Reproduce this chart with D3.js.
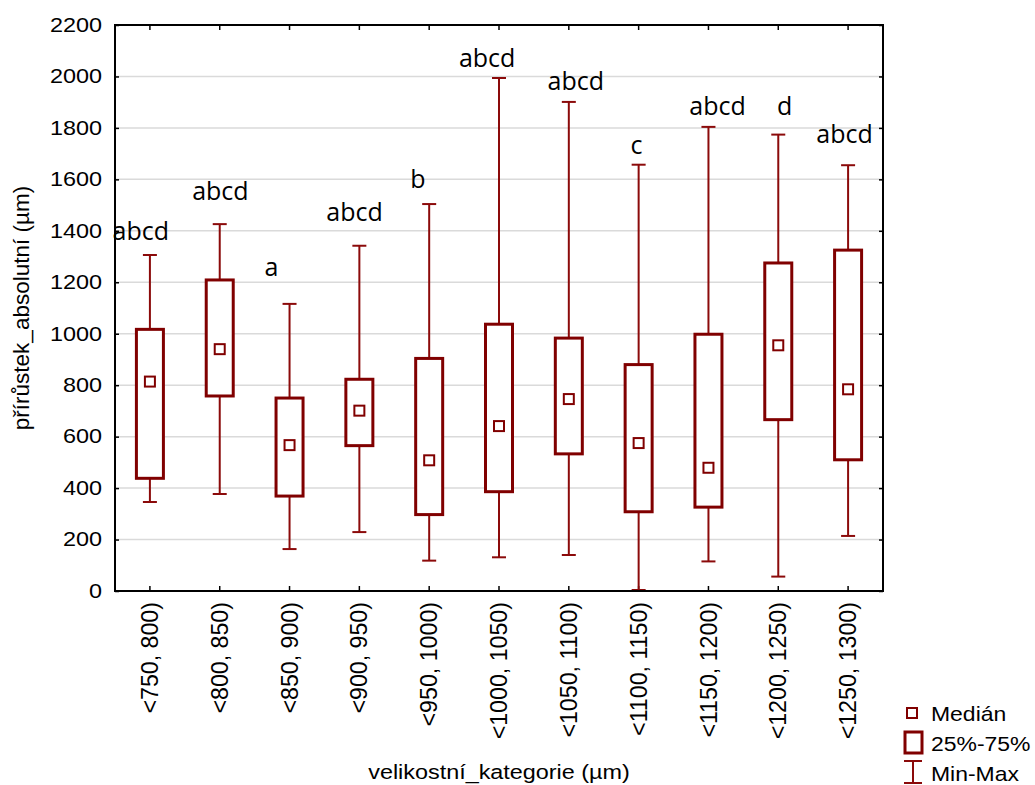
<!DOCTYPE html>
<html><head><meta charset="utf-8">
<script src="https://cdn.jsdelivr.net/npm/d3@7"></script>
<style>
html,body{margin:0;padding:0;background:#fff;}
svg text{font-family:"Liberation Sans",Arial,sans-serif;fill:#000;}
</style></head>
<body>
<svg id="chart" width="1035" height="785"></svg>
<script>
const categories = ["<750, 800)","<800, 850)","<850, 900)","<900, 950)","<950, 1000)","<1000, 1050)","<1050, 1100)","<1100, 1150)","<1150, 1200)","<1200, 1250)","<1250, 1300)"];
const maxV    = [1306,1426,1116,1342,1504,1994,1901,1657,1804,1774,1655];
const q3V     = [1017,1209, 750, 823, 904,1037, 983, 880, 998,1275,1325];
const medianV = [ 814, 940, 567, 701, 508, 641, 746, 575, 479, 955, 784];
const q1V     = [ 438, 758, 369, 565, 297, 386, 533, 308, 326, 666, 510];
const minV    = [ 346, 377, 163, 229, 118, 131, 140,   4, 115,  56, 214];
const letters = ["abcd","abcd","a","abcd","b","abcd","abcd","c","abcd","d","abcd"];
const letterY = [1364,1520,1224,1438,1566,2037,1947,1699,1850,1850,1741];
const letterShift = [-0.13,0.01,-0.26,-0.07,-0.16,-0.17,0.10,-0.03,0.13,0.09,-0.05]; // in category widths
const yTicks  = [0,200,400,600,800,1000,1200,1400,1600,1800,2000,2200];
const legendLabels = ["Medián","25%-75%","Min-Max"];

const svg = d3.select("#chart");
const L = 115, R = 883, T = 25, B = 591;
const red = "#800000", redW = "#8b0a0a";
const x = d3.scaleBand().domain(categories).range([L, R]);
const y = d3.scaleLinear().domain([0, 2200]).range([B, T]);
const SX = 1.2;

// gridlines
svg.append("g").selectAll("line").data(yTicks.filter(v => v > 0 && v < 2200)).join("line")
  .attr("x1", L).attr("x2", R).attr("y1", d => y(d)).attr("y2", d => y(d))
  .attr("stroke", "#dadada").attr("stroke-width", 1.5);

// axes ticks (inward)
const axL = svg.append("g").attr("transform", `translate(${L},0)`).call(d3.axisLeft(y).tickValues(yTicks).tickSize(-4).tickFormat(""));
const axR = svg.append("g").attr("transform", `translate(${R},0)`).call(d3.axisRight(y).tickValues(yTicks).tickSize(-4).tickFormat(""));
const axB = svg.append("g").attr("transform", `translate(0,${B})`).call(d3.axisBottom(x).tickSize(-5).tickFormat(""));
const axT = svg.append("g").attr("transform", `translate(0,${T})`).call(d3.axisTop(x).tickSize(-5).tickFormat(""));
[axL, axR, axB, axT].forEach(a => { a.select(".domain").remove(); a.selectAll("line").attr("stroke", "#000").attr("stroke-width", 1.5); });

// y tick labels
svg.append("g").selectAll("text").data(yTicks).join("text")
  .attr("transform", d => `translate(${L - 13},${y(d)}) scale(${SX},1)`)
  .attr("text-anchor", "end").attr("dy", "0.35em")
  .style("font-size", "19.5px").text(d => d);

// x tick labels (rotated)
svg.append("g").selectAll("text").data(categories).join("text")
  .attr("transform", d => `translate(${x(d) + x.bandwidth() / 2},${B + 11}) rotate(-90)`)
  .attr("text-anchor", "end").attr("dy", "0.35em")
  .style("font-size", "23.2px").text(d => d);

// boxes
const idx = d3.range(categories.length);
const bw = 27, cw = 14;
const cx = i => x(categories[i]) + x.bandwidth() / 2;
const g = svg.append("g");
g.selectAll(".wu").data(idx).join("line").attr("class", "wu")
  .attr("x1", cx).attr("x2", cx).attr("y1", i => y(maxV[i])).attr("y2", i => y(q3V[i]))
  .attr("stroke", redW).attr("stroke-width", 2);
g.selectAll(".wl").data(idx).join("line").attr("class", "wl")
  .attr("x1", cx).attr("x2", cx).attr("y1", i => y(q1V[i])).attr("y2", i => y(minV[i]))
  .attr("stroke", redW).attr("stroke-width", 2);
g.selectAll(".cu").data(idx).join("line").attr("class", "cu")
  .attr("x1", i => cx(i) - cw / 2).attr("x2", i => cx(i) + cw / 2)
  .attr("y1", i => y(maxV[i])).attr("y2", i => y(maxV[i]))
  .attr("stroke", redW).attr("stroke-width", 2);
g.selectAll(".cl").data(idx).join("line").attr("class", "cl")
  .attr("x1", i => cx(i) - cw / 2).attr("x2", i => cx(i) + cw / 2)
  .attr("y1", i => y(minV[i])).attr("y2", i => y(minV[i]))
  .attr("stroke", redW).attr("stroke-width", 2);
g.selectAll(".box").data(idx).join("rect").attr("class", "box")
  .attr("x", i => cx(i) - bw / 2).attr("width", bw)
  .attr("y", i => y(q3V[i])).attr("height", i => y(q1V[i]) - y(q3V[i]))
  .attr("fill", "#fff").attr("stroke", red).attr("stroke-width", 3);
g.selectAll(".med").data(idx).join("rect").attr("class", "med")
  .attr("x", i => cx(i) - 5).attr("width", 10)
  .attr("y", i => y(medianV[i]) - 5).attr("height", 10)
  .attr("fill", "#fff").attr("stroke", red).attr("stroke-width", 2);

// letters
svg.append("g").selectAll("text").data(idx).join("text")
  .attr("x", i => cx(i) + letterShift[i] * x.bandwidth()).attr("y", i => y(letterY[i]))
  .attr("text-anchor", "middle")
  .style("font-family", "'Open Sans', sans-serif").style("font-size", "25px")
  .text(i => letters[i]);

// frame
svg.append("rect").attr("x", L).attr("y", T).attr("width", R - L).attr("height", B - T)
  .attr("fill", "none").attr("stroke", "#000").attr("stroke-width", 2);

// axis titles
svg.append("text").attr("transform", `translate(${(L + R) / 2},779) scale(${SX},1)`)
  .attr("text-anchor", "middle").style("font-size", "19.5px").text("velikostní_kategorie (µm)");
svg.append("text").attr("transform", `translate(29,${(T + B) / 2}) rotate(-90)`)
  .attr("text-anchor", "middle").style("font-size", "22.5px").text("přírůstek_absolutní (µm)");

// legend
const lg = svg.append("g");
lg.append("rect").attr("x", 907).attr("y", 708).attr("width", 10).attr("height", 10)
  .attr("fill", "#fff").attr("stroke", red).attr("stroke-width", 2);
lg.append("rect").attr("x", 905).attr("y", 732).attr("width", 17).attr("height", 21)
  .attr("fill", "#fff").attr("stroke", red).attr("stroke-width", 3);
lg.append("line").attr("x1", 904).attr("x2", 922).attr("y1", 761).attr("y2", 761).attr("stroke", redW).attr("stroke-width", 2);
lg.append("line").attr("x1", 904).attr("x2", 922).attr("y1", 783).attr("y2", 783).attr("stroke", redW).attr("stroke-width", 2);
lg.append("line").attr("x1", 913).attr("x2", 913).attr("y1", 761).attr("y2", 783).attr("stroke", redW).attr("stroke-width", 2);
const ly = [721, 751, 781];
lg.selectAll("text").data(legendLabels).join("text")
  .attr("transform", (d, i) => `translate(931,${ly[i]}) scale(1.12,1)`)
  .style("font-size", "20.5px").text(d => d);
</script>
</body></html>
